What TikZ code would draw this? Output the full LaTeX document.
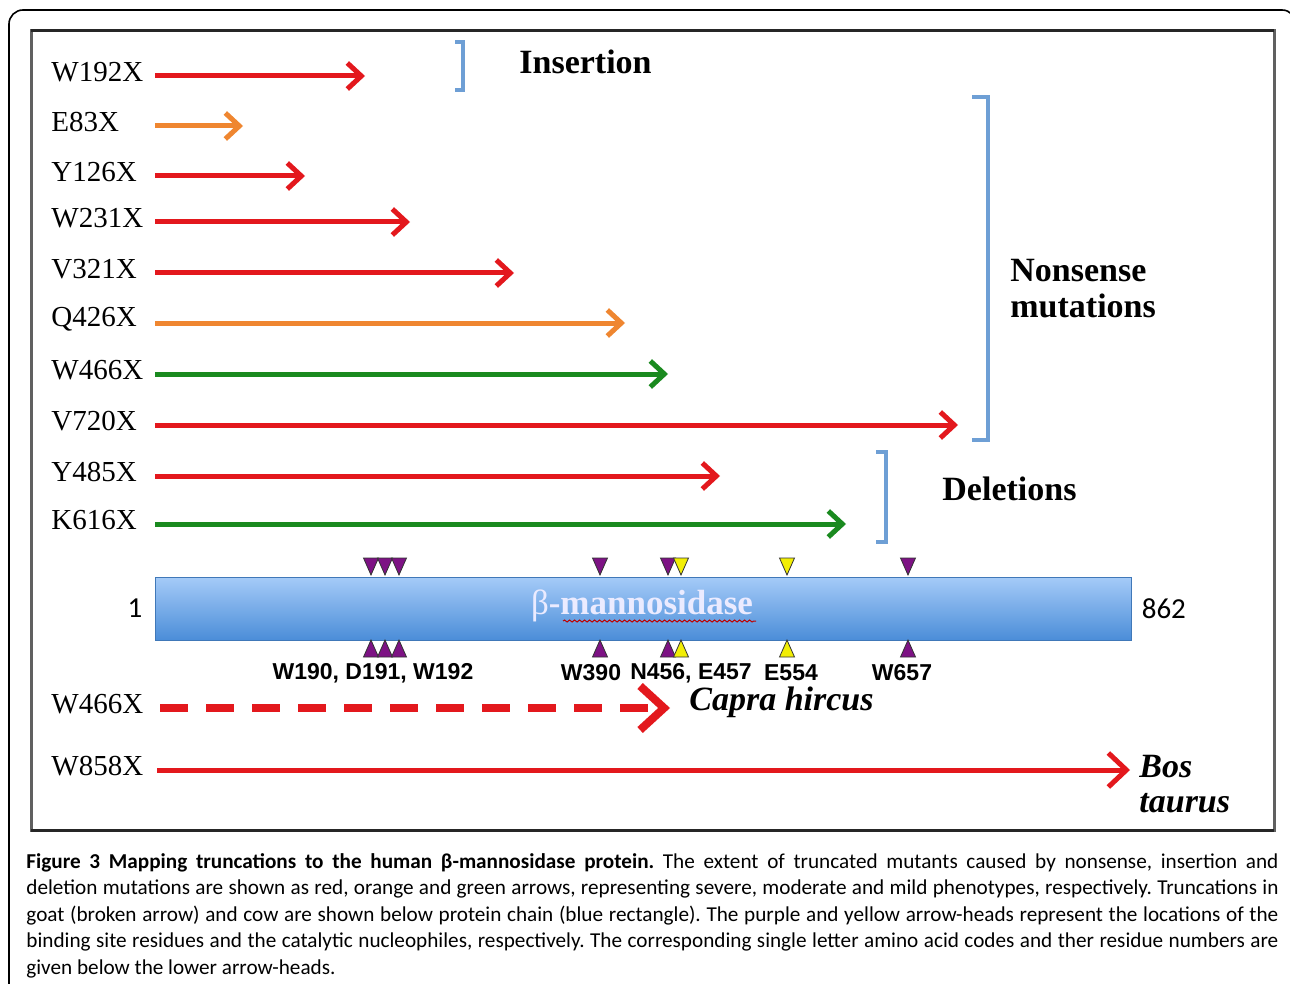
\documentclass[tikz,border=0pt]{standalone}
\usepackage{fontspec}
\setmainfont{Liberation Serif}
\newfontfamily\capfont{Carlito}
\newfontfamily\resfont{Liberation Sans}
\usepackage{tikz}
\usetikzlibrary{arrows.meta, decorations.pathmorphing}
\usepackage{xcolor}

\definecolor{sevred}{HTML}{E3181D}
\definecolor{modorange}{HTML}{EF8630}
\definecolor{mildgreen}{HTML}{1A8A1F}
\definecolor{brk}{HTML}{6E9FD5}
\definecolor{site}{HTML}{7D1284}
\definecolor{nuc}{HTML}{F2EE05}
\definecolor{bartop}{HTML}{A5CBF8}
\definecolor{barbot}{HTML}{4B8DD8}

\tikzset{
  mutlabel/.style={anchor=west, inner sep=0pt, font=\fontsize{14.5}{16}\selectfont},
  trunc/.style={line width=2.5pt, -{Straight Barb[length=7pt,width=13pt]}},
  bracket/.style={brk, line width=1.6pt},
  heading/.style={anchor=west, inner sep=0pt, align=left, font=\bfseries\fontsize{17}{18}\selectfont},
  species/.style={anchor=west, inner sep=0pt, align=left, font=\bfseries\itshape\fontsize{17}{17.5}\selectfont},
  residue/.style={inner sep=0pt, font=\resfont\bfseries\fontsize{11.5}{12}\selectfont},
  num/.style={inner sep=0pt, font=\capfont\fontsize{14.5}{15}\selectfont}
}

\begin{document}
\begin{tikzpicture}[x=0.5pt, y=-0.5pt]
                \useasboundingbox (0,0) rectangle (1290,984);
                \fill[white] (0,0) rectangle (1290,984);

                % frames
                \draw[line width=0.8pt, rounded corners=7pt] (9,1000) -- (9,10) -- (1296,10) -- (1296,1000);
                \draw[gray!75!black, line width=1.5pt] (31,31) rectangle (1274,830);
                \draw[black!85, line width=1.5pt] (31,31) -- (1274,31);
                \draw[black!85, line width=1.5pt] (31,830) -- (1274,830);

                % truncated mutants
                \foreach \mut/\yy/\xe/\col in {W192X/76/365/sevred, E83X/126/243/modorange, Y126X/176/305/sevred,
                        W231X/222/410/sevred, V321X/273/514/sevred, Q426X/323/625/modorange, W466X/374/668/mildgreen,
                        V720X/425/958/sevred, Y485X/476/720/sevred, K616X/524/846/mildgreen} {
                        \node[mutlabel] (l\mut) at (51,\yy-4) {\mut};
                        \coordinate (s\mut) at (155,\yy);
                        \coordinate (e\mut) at (\xe,\yy);
                        \draw[trunc, \col] (s\mut) -- (e\mut);
                    }

                % brackets and headings
                \draw[bracket] (455,42) -- (463,42) -- (463,90) -- (455,90);
                \draw[bracket] (972,97) -- (988,97) -- (988,440) -- (972,440);
                \draw[bracket] (876,452) -- (886,452) -- (886,542) -- (876,542);
                \node[heading] (ins) at (519,62) {Insertion};
                \node[heading] (nons) at (1010,289) {Nonsense\\mutations};
                \node[heading] (del) at (942,489) {Deletions};

                % protein chain
                \node[draw=barbot!85!black, line width=0.4pt, top color=bartop, bottom color=barbot,
                    minimum width=488pt, minimum height=31.5pt, inner sep=0pt] (bar) at (643,608.5) {};
                \node[text=white!92!blue, font=\bfseries\fontsize{17.5}{18}\selectfont] (pname) at (642,606) {{\mdseries β}-mannosidase};
                \draw[red!75!black, line width=0.5pt, decorate, decoration={snake, amplitude=0.5pt, segment length=2.5pt}]
                    (563,621) -- (756,621);
                \node[num, anchor=east] (nfirst) at ([xshift=-6pt]bar.west) {1};
                \node[num, anchor=west] (nlast) at ([xshift=5pt]bar.east) {862};

                % binding sites and nucleophiles
                \foreach \x/\c in {371/site,385/site,399/site,600/site,668/site,681/nuc,787/nuc,908/site} {
                        \filldraw[fill=\c, draw=black!80, line width=0.4pt] (\x-7.5,558) -- (\x+7.5,558) -- (\x,575) -- cycle;
                        \filldraw[fill=\c, draw=black!80, line width=0.4pt] (\x-7.5,657) -- (\x+7.5,657) -- (\x,640) -- cycle;
                    }
                \node[residue] (r190) at (373,673) {W190, D191, W192};
                \node[residue] (r390) at (591,673) {W390};
                \node[residue] (r456) at (691,673) {N456, E457};
                \node[residue] (r554) at (791,673) {E554};
                \node[residue] (r657) at (902,673) {W657};

                % goat and cow
                \node[mutlabel] (lgoat) at (51,704) {W466X};
                \coordinate (sgoat) at (160,708);
                \coordinate (egoat) at (670,708);
                \draw[sevred, line width=4pt, dash pattern=on 14pt off 9pt, -{Straight Barb[length=12pt,width=22pt]}] (sgoat) -- (egoat);
                \node[species] (capra) at (689,702) {Capra hircus};

                \node[mutlabel] (lcow) at (51,766) {W858X};
                \coordinate (scow) at (157,770);
                \coordinate (ecow) at (1130,770);
                \draw[trunc, sevred, -{Straight Barb[length=9pt,width=17pt]}] (scow) -- (ecow);
                \node[species] (bos) at (1139,784) {Bos\\taurus};

                % caption
                \node[anchor=north west, inner sep=0pt, text width=626pt, align=justify,
                    font=\capfont\fontsize{10.6}{13.25}\selectfont] (cap) at (26,853) {\hyphenpenalty=10000 \frenchspacing
                    \textbf{Figure 3 Mapping truncations to the human β-mannosidase protein.} The extent of truncated mutants caused by nonsense, insertion and\linebreak
                    deletion mutations are shown as red, orange and green arrows, representing severe, moderate and mild phenotypes, respectively. Truncations in\linebreak
                    goat (broken arrow) and cow are shown below protein chain (blue rectangle). The purple and yellow arrow-heads represent the locations of the\linebreak
                    binding site residues and the catalytic nucleophiles, respectively. The corresponding single letter amino acid codes and ther residue numbers are\linebreak
                    given below the lower arrow-heads.};
            \end{tikzpicture}
\end{document}
